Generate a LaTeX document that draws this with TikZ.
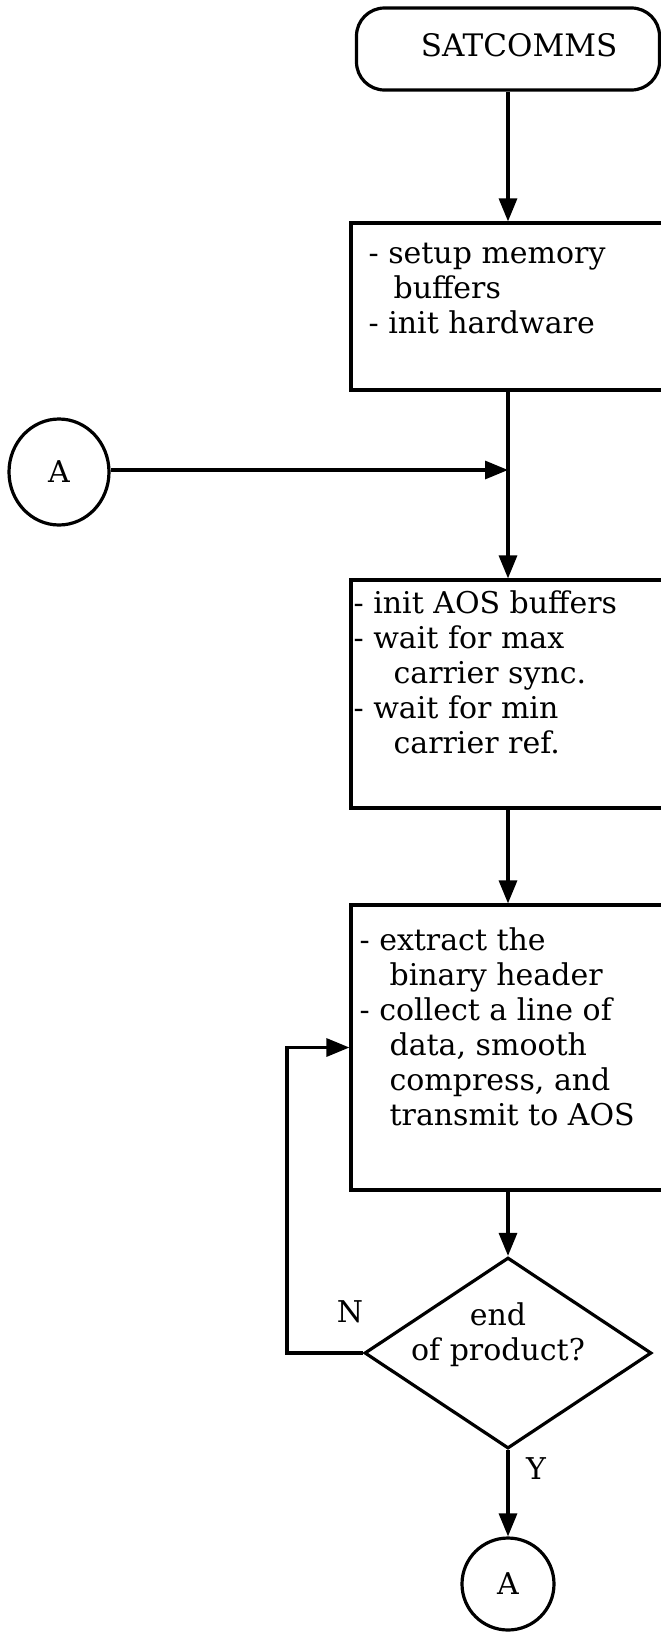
\documentclass[tikz,border=0pt]{standalone}
\usepackage{fontspec}
\setmainfont{DejaVu Serif}
\usetikzlibrary{arrows.meta,shapes.geometric}
\begin{document}
\begin{tikzpicture}[x=1pt,y=1pt,line width=3.2pt,
  box/.style={draw, rectangle, minimum width=314pt, inner sep=0pt},
  txt/.style={anchor=base west, align=left, inner sep=0pt, font=\fontsize{30}{35}\selectfont},
  lbl/.style={inner sep=0pt, font=\fontsize{30}{35}\selectfont},
  arr/.style={-{Triangle[length=23pt,width=18pt]}},
  conn/.style={draw, ellipse, inner sep=0pt, font=\fontsize{30}{35}\selectfont}]
\useasboundingbox (0,0) rectangle (661,-1633);
\clip (0,0) rectangle (661,-1633);

% nodes
\node[draw, rounded corners=28pt, minimum width=303pt, minimum height=82pt] (start) at (508,-49) {};
\node[lbl, anchor=base, font=\fontsize{31}{35}\selectfont] (startlbl) at (519,-56) {SATCOMMS};

\node[box, minimum height=167pt] (b1) at (508,-306.5) {};
\node[txt] (b1t) at (367,-333) {- setup memory\\\hspace*{25pt}buffers\\- init hardware};

\node[conn, minimum width=100pt, minimum height=106pt] (A1) at (59,-472) {A};
\coordinate (merge) at (508,-470);

\node[box, minimum height=228pt] (b2) at (508,-694) {};
\node[txt] (b2t) at (352,-753) {- init AOS buffers\\- wait for max\\\hspace*{40pt}carrier sync.\\- wait for min\\\hspace*{40pt}carrier ref.};

\node[box, minimum height=285pt] (b3) at (508,-1047.5) {};
\node[txt] (b3t) at (358,-1125) {- extract the\\\hspace*{30pt}binary header\\- collect a line of\\\hspace*{30pt}data, smooth\\\hspace*{30pt}compress, and\\\hspace*{30pt}transmit to AOS};

\node[draw, diamond, aspect=1.5, minimum width=287pt, minimum height=191pt, inner sep=0pt] (dec) at (508,-1353) {};
\node[lbl, align=center, anchor=base] (dect) at (498,-1360) {end\\of product?};
\coordinate (loopc) at (287,-1353);

\node[conn, minimum width=92pt, minimum height=92pt] (A2) at (508,-1584) {A};

\node[lbl, anchor=base] (nlbl) at (350,-1322) {N};
\node[lbl, anchor=base] (ylbl) at (536,-1479) {Y};

% connectors
\draw[arr] (start.south) -- (b1.north);
\draw (b1.south) -- (merge);
\draw[arr] (A1.east |- merge) -- (merge);
\draw[arr] (merge) -- (b2.north);
\draw[arr] (b2.south) -- (b3.north);
\draw[arr] (b3.south) -- (dec.north);
\draw[arr] (dec.west) -- (loopc) |- (b3.west);
\draw[arr] (dec.south) -- (A2.north);
\end{tikzpicture}
\end{document}
